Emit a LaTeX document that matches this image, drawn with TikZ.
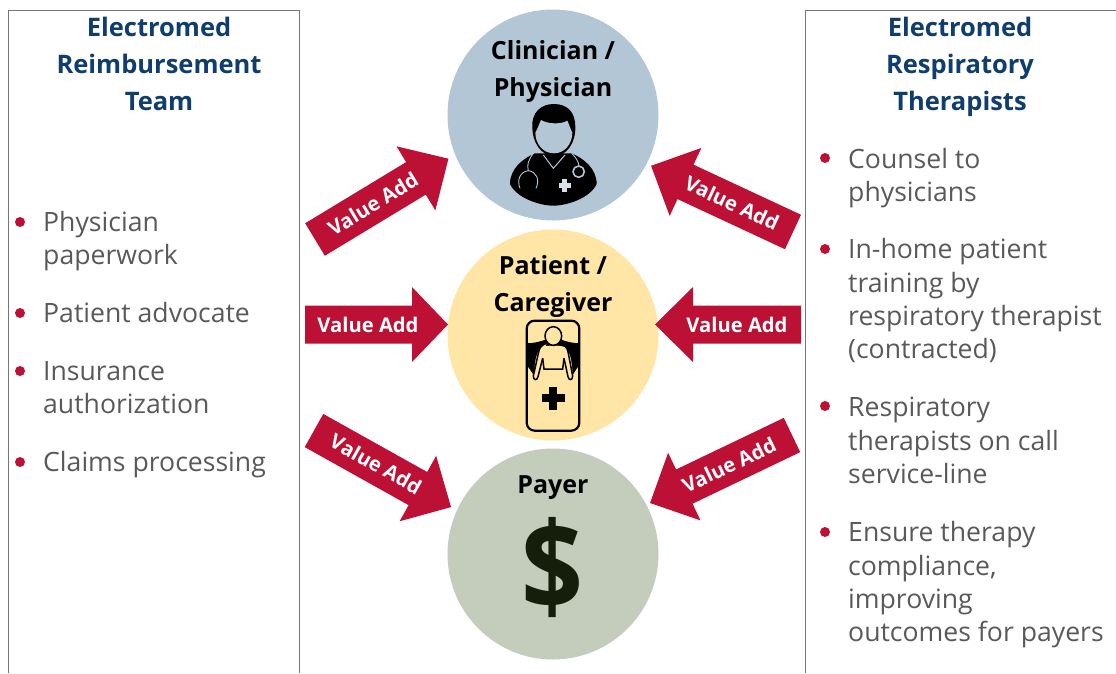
\documentclass[tikz,border=0pt]{standalone}
\usepackage{fontspec}
\setmainfont{Open Sans}
\definecolor{crim}{HTML}{BC1035}
\definecolor{navy}{HTML}{0F3D6E}
\definecolor{bodygray}{HTML}{595959}
\definecolor{cblue}{HTML}{B3C6D6}
\definecolor{cyellow}{HTML}{FFE6A6}
\definecolor{cgreen}{HTML}{C4CDBC}
\definecolor{edgegray}{HTML}{767676}
\definecolor{dollar}{HTML}{141E0A}
\tikzset{
  titletext/.style={align=center,text=navy,inner sep=0pt,font=\fontsize{25.5}{37}\selectfont\bfseries},
  circtext/.style={align=center,text=black,inner sep=0pt,font=\fontsize{25}{37}\selectfont\bfseries},
  itemtext/.style={align=left,anchor=north west,text=bodygray,inner sep=0pt,font=\fontsize{26.6}{33.3}\selectfont},
  dot/.style={circle,fill=crim,inner sep=0pt,minimum size=10pt},
  arrowlabel/.style={text=white,inner sep=0pt,font=\fontsize{20.2}{24}\selectfont\bfseries},
  disc/.style={circle,inner sep=0pt,minimum size=211pt},
  panel/.style={draw=edgegray,line width=1pt},
}
% name, tail x, tail y, angle, length, head length, text x, text y, text rotation
\newcommand{\valuearrow}[9]{%
  \begin{scope}[shift={(#2,#3)},rotate=#4]
    \fill[crim] (0,-19) -- ({#5-#6},-19) -- ({#5-#6},-37.5) -- (#5,0) -- ({#5-#6},37.5) -- ({#5-#6},19) -- (0,19) -- cycle;
  \end{scope}
  \node[arrowlabel,rotate=#9] (#1) at (#7,#8) {Value Add};
}
\begin{document}
\begin{tikzpicture}[x=1pt,y=-1pt]
\useasboundingbox (0,0) rectangle (1116,673);
% panels
\coordinate (la) at (8,673); \coordinate (lb) at (8,10); \coordinate (lc) at (299,10); \coordinate (ld) at (299,673);
\coordinate (ra) at (805,673); \coordinate (rb) at (805,10); \coordinate (rc) at (1116,10);
\draw[panel] (la) -- (lb) -- (lc) -- (ld);
\draw[panel] (ra) -- (rb) -- (rc);
% titles
\node[titletext] (ltitle) at (159,64) {Electromed\\Reimbursement\\Team};
\node[titletext] (rtitle) at (960,67) {Electromed\\Respiratory\\Therapists};
% left list
\node[dot] (ld1) at (20,222) {};
\node[itemtext] (li1) at (43,211) {Physician\\paperwork};
\node[dot] (ld2) at (20,313) {};
\node[itemtext] (li2) at (43,302) {Patient advocate};
\node[dot] (ld3) at (20,371) {};
\node[itemtext] (li3) at (43,361) {Insurance\\authorization};
\node[dot] (ld4) at (20,462) {};
\node[itemtext] (li4) at (43,451) {Claims processing};
% right list
\node[dot] (rd1) at (825,158) {};
\node[itemtext] (ri1) at (848,148) {Counsel to\\physicians};
\node[dot] (rd2) at (825,249) {};
\node[itemtext] (ri2) at (848,238.5) {In-home patient\\training by\\respiratory therapist\\(contracted)};
\node[dot] (rd3) at (825,406) {};
\node[itemtext] (ri3) at (848,397) {Respiratory\\therapists on call\\service-line};
\node[dot] (rd4) at (825,532) {};
\node[itemtext] (ri4) at (848,521.5) {Ensure therapy\\compliance,\\improving\\outcomes for payers};
% discs
\node[disc,fill=cblue] (c1) at (553,115) {};
\node[disc,fill=cyellow] (c2) at (553,335) {};
\node[disc,fill=cgreen] (c3) at (553,554) {};
\node[circtext] (t1) at (553,72) {Clinician /\\Physician};
\node[circtext] (t2) at (553,286) {Patient /\\Caregiver};
\node[circtext] (t3) at (553,488) {Payer};
\node[inner sep=0pt,text=dollar,xscale=.92,yscale=1.04,font=\fontsize{118}{120}\selectfont\bfseries] (t4) at (552,567) {\$};
% doctor
\begin{scope}[shift={(460,90)},x=.3333pt,y=-.3333pt]
  \fill[black] (225,190) .. controls (190,205) and (150,235) .. (150,282)
     .. controls (170,325) and (240,347) .. (280,347)
     .. controls (320,347) and (390,325) .. (410,282)
     .. controls (410,235) and (370,205) .. (335,190) -- cycle;
  \draw[cblue,line width=1pt] (250,195) -- (280,235) -- (315,195);
  \fill[black] (282,42) .. controls (240,42) and (215,70) .. (217,110)
     .. controls (217,160) and (245,198) .. (282,198)
     .. controls (320,198) and (347,160) .. (346,110)
     .. controls (346,70) and (325,42) .. (282,42) -- cycle;
  \fill[cblue] (226,128) .. controls (235,112) and (240,95) .. (243,90)
     .. controls (265,103) and (305,103) .. (322,92)
     .. controls (328,105) and (332,118) .. (337,128)
     .. controls (337,160) and (315,190) .. (282,190)
     .. controls (248,190) and (226,160) .. (226,128) -- cycle;
  \draw[cblue,line width=.9pt] (220,190) .. controls (205,210) and (200,225) .. (205,242)
     .. controls (180,245) and (170,270) .. (180,295);
  \draw[cblue,line width=.9pt] (205,242) .. controls (230,245) and (240,270) .. (228,295);
  \draw[cblue,line width=.9pt] (335,190) .. controls (350,205) and (355,215) .. (357,227);
  \draw[cblue,line width=1.6pt] (356,245) circle (17);
  \fill[cblue!50!white] (307,268) rectangle (321,305);
  \fill[cblue!50!white] (296,280) rectangle (333,293);
\end{scope}
% bed
\begin{scope}[shift={(500,310)},x=.3333pt,y=-.3333pt]
  \fill[black] (80,100) .. controls (100,100) and (120,95) .. (140,88) -- (180,88)
     .. controls (200,95) and (220,100) .. (238,100) -- (238,165) -- (218,195) -- (100,195) -- (80,165) -- cycle;
  \fill[cyellow] (100,210) .. controls (105,160) and (105,130) .. (125,112)
     .. controls (135,105) and (185,105) .. (195,112)
     .. controls (215,130) and (215,160) .. (220,210)
     -- (220,360) -- (100,360) -- cycle;
  \fill[cyellow] (85,172) -- (100,195) -- (100,360) -- (85,360) -- cycle;
  \fill[cyellow] (233,172) -- (220,195) -- (220,360) -- (233,360) -- cycle;
  \draw[black,line width=1.5pt,fill=cyellow] (140,100) .. controls (125,105) and (118,112) .. (115,130)
     -- (100,198) .. controls (100,212) and (112,212) .. (114,200)
     -- (128,145);
  \draw[black,line width=1.5pt] (180,100) .. controls (195,105) and (202,112) .. (205,130)
     -- (218,198) .. controls (218,212) and (206,212) .. (204,200)
     -- (192,145);
  \draw[black,line width=1.5pt] (128,145) -- (132,177) -- (188,177) -- (192,145);
  \draw[black,line width=1.5pt,fill=cyellow] (160,78) ellipse (25 and 28);
  \draw[black,line width=2.2pt,rounded corners=8pt] (80,32) rectangle (238,362);
  \fill[black] (148,230) rectangle (172,300);
  \fill[black] (125,253) rectangle (195,277);
\end{scope}
% arrows
\valuearrow{a1}{315}{239.5}{31.2}{156}{38}{373}{204}{31.2}
\valuearrow{a2}{305}{324.5}{0}{143}{36}{368}{325}{0}
\valuearrow{a3}{314}{430.5}{-29.2}{157}{38}{376}{464}{-29.2}
\valuearrow{a4}{793}{232}{155}{156.6}{38}{732}{203}{-25}
\valuearrow{a5}{792}{435}{205.6}{157.4}{38}{729}{465}{25.6}
\valuearrow{a6}{801}{324.5}{180}{146}{38}{737}{325}{0}
\end{tikzpicture}
\end{document}
